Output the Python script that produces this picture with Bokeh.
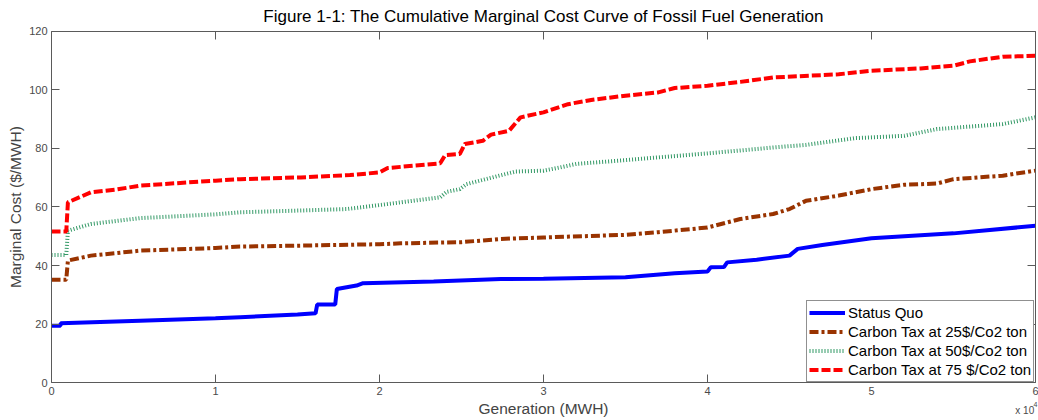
from bokeh.plotting import figure
from bokeh.models import LinearAxis, Legend, LegendItem, Label, Range1d, FixedTicker
from bokeh.embed import file_html
from bokeh.resources import INLINE

# Cumulative generation (MWH) and marginal cost ($/MWH) for each scenario
gen_status_quo = [0, 550, 560, 5400, 10000, 11500, 15000, 16100, 16200, 17300, 17400,
                  18600, 19000, 23300, 27400, 30000, 35000, 38000, 40000, 40200, 41000,
                  41200, 43000, 45000, 45500, 47000, 50000, 55000, 60000]
cost_status_quo = [19.5, 19.5, 20.3, 21.2, 22.0, 22.4, 23.3, 23.7, 26.7, 26.7, 32.0,
                   33.2, 34.0, 34.6, 35.4, 35.5, 36.0, 37.4, 38.0, 39.4, 39.5,
                   41.1, 42.0, 43.4, 45.7, 47.0, 49.3, 51.0, 53.6]

gen_tax25 = [0, 900, 1000, 2400, 5400, 10000, 11500, 15000, 20000, 21300, 25000, 27400,
             30000, 35000, 37000, 40000, 42000, 44000, 45000, 46000, 48000, 50000,
             52000, 54000, 55000, 58000, 60000]
cost_tax25 = [35.2, 35.2, 41.7, 43.4, 45.1, 46.0, 46.5, 46.8, 47.3, 47.6, 48.0, 49.1,
              49.6, 50.5, 51.4, 53.0, 55.9, 57.6, 59.3, 62.1, 63.9, 66.1,
              67.6, 68.0, 69.5, 70.7, 72.4]

gen_tax50 = [0, 900, 1000, 2400, 5400, 10000, 11500, 15200, 18000, 20200, 23700, 24100,
             24900, 25300, 27300, 28300, 30000, 31000, 32000, 35000, 40000, 44000,
             46000, 49000, 52000, 54000, 58000, 60000]
cost_tax50 = [43.6, 43.6, 51.9, 54.2, 56.2, 57.5, 58.2, 58.8, 59.3, 60.8, 63.3, 65.2,
              66.1, 67.8, 70.7, 72.1, 72.4, 73.5, 74.7, 76.0, 78.3, 80.3,
              81.2, 83.5, 84.3, 86.6, 88.3, 90.6]

gen_tax75 = [0, 900, 1000, 2400, 4000, 5400, 10000, 11500, 15200, 18200, 20000, 20500,
             23700, 24000, 24900, 25200, 26300, 26800, 27900, 28600, 30000, 31500,
             33000, 35000, 37000, 38000, 40000, 42000, 44000, 48000, 50000, 53000,
             55000, 56000, 58000, 60000]
cost_tax75 = [51.6, 51.6, 61.6, 65.0, 66.0, 67.3, 69.0, 69.5, 70.1, 70.9, 71.8, 73.3,
              74.9, 77.7, 78.1, 81.5, 82.6, 84.7, 86.0, 90.6, 92.3, 95.1,
              96.6, 98.0, 99.1, 100.6, 101.4, 102.7, 104.2, 105.3, 106.5, 107.3,
              108.2, 109.7, 111.3, 111.6]

series_labels = ["Status Quo", "Carbon Tax at 25$/Co2 ton",
                 "Carbon Tax at 50$/Co2 ton", "Carbon Tax at 75 $/Co2 ton"]
x_ticks = [0, 10000, 20000, 30000, 40000, 50000, 60000]
x_tick_labels = ["0", "1", "2", "3", "4", "5", "6"]
y_ticks = [0, 20, 40, 60, 80, 100, 120]
chart_title = "Figure 1-1: The Cumulative Marginal Cost Curve of Fossil Fuel Generation"

FONT = "Liberation Sans"
AXIS_GRAY = "#5a5a5a"
TICK_TEXT = "#4a4a4a"

# The frame fills the whole page; the four axes are pinned to the edges of the
# 0..60000 x 0..120 box, leaving margin inside the frame for the title, tick
# labels, axis titles and the scale multiplier.
p = figure(width=1038, height=420, output_backend="svg", toolbar_location=None,
           x_range=Range1d(-3110, 60183), y_range=Range1d(-12.87, 130.48),
           min_border_left=0, min_border_right=0, min_border_top=0, min_border_bottom=0,
           background_fill_color="white", border_fill_color="white",
           outline_line_color=None)

p.grid.visible = False


def style_axis(ax, show_labels):
    ax.axis_line_color = AXIS_GRAY
    ax.axis_line_width = 1
    ax.major_tick_in = 8
    ax.major_tick_out = 0
    ax.major_tick_line_color = AXIS_GRAY
    ax.minor_tick_line_color = None
    ax.major_label_text_font = FONT
    ax.major_label_text_font_size = "11px"
    ax.major_label_text_color = TICK_TEXT
    ax.major_label_standoff = 4 if show_labels else 0


xaxis = p.xaxis[0]
xaxis.fixed_location = 0
xaxis.bounds = (0, 60000)
xaxis.ticker = FixedTicker(ticks=x_ticks)
xaxis.major_label_overrides = {t: s for t, s in zip(x_ticks, x_tick_labels)}
style_axis(xaxis, True)
xaxis.axis_label = "Generation (MWH)"
xaxis.axis_label_text_font = FONT
xaxis.axis_label_text_font_size = "15.5px"
xaxis.axis_label_text_font_style = "normal"
xaxis.axis_label_standoff = 2

yaxis = p.yaxis[0]
yaxis.fixed_location = 0
yaxis.bounds = (0, 120)
yaxis.ticker = FixedTicker(ticks=y_ticks)
style_axis(yaxis, True)
yaxis.axis_label = "Marginal Cost ($/MWH)"
yaxis.axis_label_text_font = FONT
yaxis.axis_label_text_font_size = "15.5px"
yaxis.axis_label_text_font_style = "normal"
yaxis.axis_label_standoff = 2

# box axes on top and right with inward ticks and no labels
top_axis = LinearAxis(ticker=FixedTicker(ticks=x_ticks), bounds=(0, 60000),
                      fixed_location=120,
                      major_label_overrides={t: "" for t in x_ticks})
style_axis(top_axis, False)
p.add_layout(top_axis, "above")
right_axis = LinearAxis(ticker=FixedTicker(ticks=y_ticks), bounds=(0, 120),
                        fixed_location=60000,
                        major_label_overrides={t: "" for t in y_ticks})
style_axis(right_axis, False)
p.add_layout(right_axis, "right")

r_sq = p.line(gen_status_quo, cost_status_quo, line_color="#0000ff", line_width=4)
r_25 = p.line(gen_tax25, cost_tax25, line_color="#993300", line_width=4,
              line_dash="9 3 3 3")
r_50 = p.line(gen_tax50, cost_tax50, line_color="#339966", line_width=4,
              line_dash="1 2")
r_75 = p.line(gen_tax75, cost_tax75, line_color="#ff0000", line_width=4,
              line_dash="9 3")

legend = Legend(items=[LegendItem(label=lbl, renderers=[r])
                       for lbl, r in zip(series_labels, [r_sq, r_25, r_50, r_75])],
                location=(806, 38))
legend.margin = 0
legend.padding = 2
legend.spacing = 0
legend.label_height = 19
legend.glyph_height = 19
legend.glyph_width = 36
legend.label_standoff = 3
legend.label_text_font = FONT
legend.label_text_font_size = "15px"
legend.label_text_color = "black"
legend.border_line_color = "#222222"
legend.border_line_width = 1
legend.background_fill_color = "white"
legend.background_fill_alpha = 1
p.add_layout(legend)

# chart title centred over the plotting box
p.add_layout(Label(x=30000, y=125.0, text=chart_title, text_font=FONT,
                   text_font_size="17px", text_color="black",
                   text_align="center", text_baseline="middle"))

# axis scale multiplier beneath the generation tick labels
p.add_layout(Label(x=58770, y=-11.2, text="x 10", text_font=FONT,
                   text_font_size="10px", text_color=TICK_TEXT))
p.add_layout(Label(x=59880, y=-8.1, text="4", text_font=FONT,
                   text_font_size="7px", text_color=TICK_TEXT))

open("out.html", "w").write(file_html(p, INLINE))
